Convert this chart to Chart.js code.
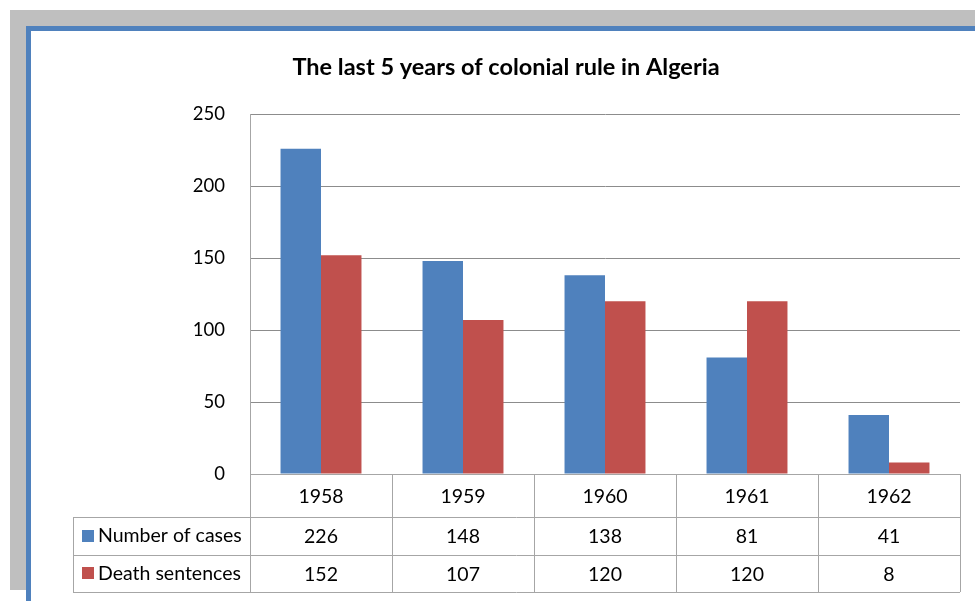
<!DOCTYPE html>
<html>
<head>
<meta charset="utf-8">
<script src="https://cdn.jsdelivr.net/npm/chart.js@4"></script>
<style>
  html, body { margin: 0; padding: 0; background: #ffffff; width: 975px; height: 601px; overflow: hidden; }
  #gray { position: absolute; left: 10px; top: 10px; width: 965px; height: 580px; background: #bfbfbf; }
  #panel { position: absolute; left: 26px; top: 26px; width: 1000px; height: 640px; background: #ffffff; border: 5px solid #4f81bd; box-sizing: border-box; }
  #c { position: absolute; left: 0; top: 0; }
</style>
</head>
<body>
<div id="gray"></div>
<div id="panel"></div>
<canvas id="c" width="975" height="601"></canvas>
<script>
const titleText = 'The last 5 years of colonial rule in Algeria';
const categories = ['1958', '1959', '1960', '1961', '1962'];
const seriesNames = ['Number of cases', 'Death sentences'];
const numberOfCases = [226, 148, 138, 81, 41];
const deathSentences = [152, 107, 120, 120, 8];
const yTicks = [0, 50, 100, 150, 200, 250];
const seriesColors = ['#4f81bd', '#c0504d'];

const FONT = 'Lato, "Open Sans", sans-serif';

const tablePlugin = {
  id: 'dataTable',
  afterDraw(chart) {
    const ctx = chart.ctx;
    const area = chart.chartArea;
    const x = chart.scales.x;
    const n = categories.length;
    const cw = (area.right - area.left) / n;
    const top = area.bottom;
    const headerH = 43;
    const rowH = 37.5;
    const labelLeft = 73;
    const rows = [numberOfCases, deathSentences];
    ctx.save();
    ctx.strokeStyle = '#a6a6a6';
    ctx.lineWidth = 1;
    ctx.beginPath();
    ctx.moveTo(area.left, top + 0.5); ctx.lineTo(area.right, top + 0.5);
    for (let i = 0; i <= n; i++) {
      const bx = Math.round(x.getPixelForValue(0) - cw / 2 + i * cw) + 0.5;
      ctx.moveTo(bx, top); ctx.lineTo(bx, top + headerH + 2 * rowH);
    }
    ctx.moveTo(labelLeft + 0.5, top + headerH);
    ctx.lineTo(labelLeft + 0.5, top + headerH + 2 * rowH);
    for (let r = 0; r <= 2; r++) {
      const yy = Math.round(top + headerH + r * rowH) + 0.5;
      ctx.moveTo(labelLeft, yy); ctx.lineTo(area.right, yy);
    }
    ctx.stroke();

    ctx.fillStyle = '#000000';
    ctx.textAlign = 'center';
    ctx.textBaseline = 'middle';
    ctx.font = '19.5px ' + FONT;
    categories.forEach((c, i) => {
      ctx.fillText(c, x.getPixelForValue(i), top + headerH / 2 + 1);
    });
    rows.forEach((vals, r) => {
      const cy = top + headerH + r * rowH + rowH / 2 + 1;
      vals.forEach((v, i) => {
        ctx.fillText(String(v), x.getPixelForValue(i), cy);
      });
      ctx.fillStyle = seriesColors[r];
      ctx.fillRect(82, Math.round(cy - 7), 12, 12);
      ctx.fillStyle = '#000000';
      ctx.textAlign = 'left';
      ctx.fillText(seriesNames[r], 98, cy - 1);
      ctx.textAlign = 'center';
    });
    ctx.restore();
  }
};

new Chart(document.getElementById('c'), {
  type: 'bar',
  data: {
    labels: categories,
    datasets: [
      { label: seriesNames[0], data: numberOfCases, backgroundColor: seriesColors[0], borderWidth: 0 },
      { label: seriesNames[1], data: deathSentences, backgroundColor: seriesColors[1], borderWidth: 0 }
    ]
  },
  options: {
    responsive: false,
    animation: false,
    devicePixelRatio: 1,
    layout: { padding: { left: 52, right: 15, top: 31, bottom: 127 } },
    datasets: { bar: { categoryPercentage: 0.57, barPercentage: 1.0 } },
    plugins: {
      legend: { display: false },
      tooltip: { enabled: false },
      title: {
        display: true,
        text: titleText,
        color: '#000000',
        font: { family: FONT, size: 23.5, weight: 'bold', lineHeight: 1.2 },
        padding: { top: 21.9, bottom: 33 }
      }
    },
    scales: {
      x: { display: false },
      y: {
        min: 0, max: 250,
        afterFit(s) { s.width = 198; },
        afterBuildTicks(s) { s.ticks = yTicks.map(v => ({ value: v })); },
        grid: { color: '#8c8c8c', drawTicks: false, lineWidth: 1 },
        border: { display: true, color: '#a6a6a6' },
        ticks: { color: '#000000', padding: 25, font: { family: FONT, size: 18.5 } }
      }
    }
  },
  plugins: [tablePlugin]
});
</script>
</body>
</html>
